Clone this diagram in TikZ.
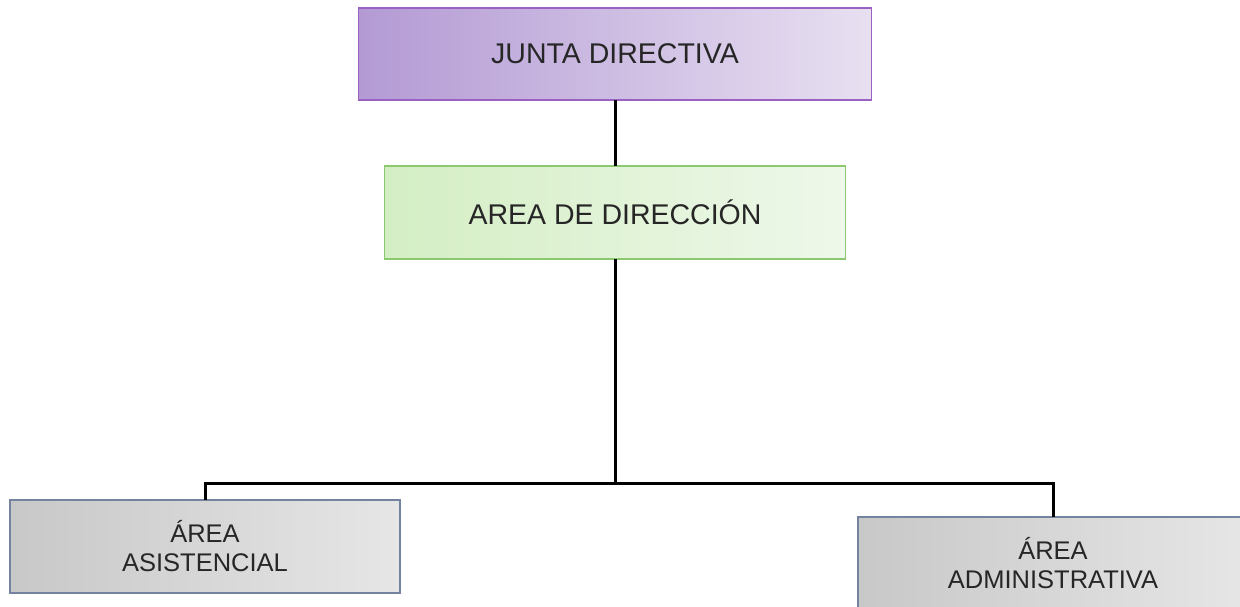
\documentclass[tikz,border=0pt]{standalone}
\usepackage{fontspec}
\setmainfont{Liberation Sans}
\begin{document}
\begin{tikzpicture}[x=1pt,y=-1pt,
  every node/.style={inner sep=0pt, outer sep=0pt, text=black!85},
  topfont/.style={font=\fontsize{28.5}{32}\selectfont},
  botfont/.style={font=\fontsize{25.5}{29}\selectfont, align=center},
  jbox/.style={line width=1.8pt, shading angle=90},
  dbox/.style={line width=1.5pt},
  gbox/.style={line width=1.3pt},
  link/.style={draw=black, line width=3pt}
]
\definecolor{jl}{HTML}{B39AD4}
\definecolor{jr}{HTML}{E8E0F1}
\definecolor{jb}{HTML}{9A60C2}
\definecolor{dl}{HTML}{D4EEC4}
\definecolor{dr}{HTML}{EEF8EA}
\definecolor{db}{HTML}{8CC870}
\definecolor{gl}{HTML}{C8C8C8}
\definecolor{gr}{HTML}{E6E6E6}
\definecolor{gb}{HTML}{7484A0}
\useasboundingbox (0,0) rectangle (1240,606);
\clip (0,0) rectangle (1240,606);
\node[jbox, draw=jb, left color=jl, right color=jr, topfont, minimum width=513pt, minimum height=92pt, anchor=north west] (j) at (358.5,8) {JUNTA DIRECTIVA};
\node[dbox, draw=db, left color=dl, right color=dr, topfont, minimum width=461pt, minimum height=93pt, anchor=north west] (d) at (384.5,166) {AREA DE DIRECCIÓN};
\node[gbox, draw=gb, left color=gl, right color=gr, botfont, minimum width=390pt, minimum height=93pt, anchor=north west] (a1) at (10,500) {ÁREA\\ASISTENCIAL};
\node[gbox, draw=gb, left color=gl, right color=gr, botfont, minimum width=390pt, minimum height=93pt, anchor=north west] (a2) at (858,517) {ÁREA\\ADMINISTRATIVA};
\coordinate (hub) at (d.south |- 0,483);
\draw[link] (j.south) -- (d.north);
\draw[link] (d.south) -- (hub);
\draw[link] (a1.north) |- (hub) -| (a2.north);
\end{tikzpicture}
\end{document}
